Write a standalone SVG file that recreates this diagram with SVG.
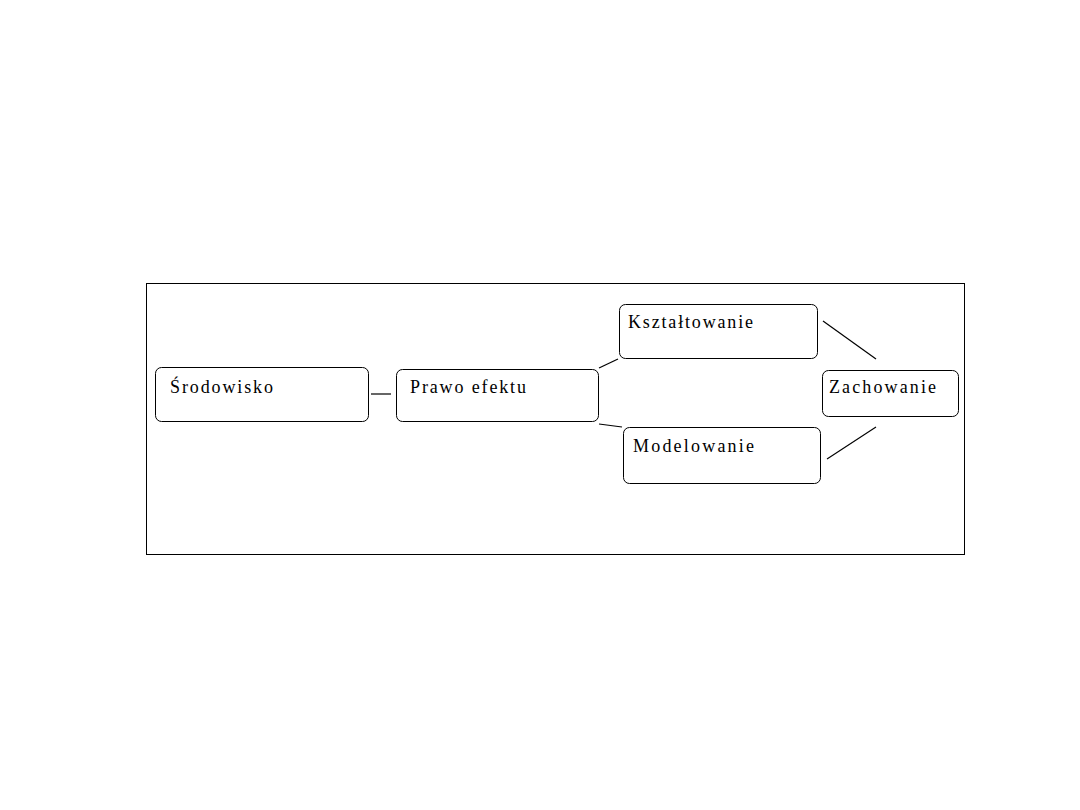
<svg xmlns="http://www.w3.org/2000/svg" width="1080" height="810" viewBox="0 0 1080 810">
<style>
.box{fill:#fff;stroke:#000;stroke-width:1}
.lbl{font-family:"Liberation Serif","DejaVu Serif",serif;font-size:18px;fill:#000}
.con{stroke:#000;stroke-width:1.2;fill:none}
</style>
<rect width="1080" height="810" fill="#fff"/>
<rect x="146.5" y="283.5" width="818" height="271" fill="none" stroke="#000" stroke-width="1"/>
<g id="connectors">
<line class="con" x1="371" y1="394" x2="391" y2="394"/>
<line class="con" x1="599" y1="368" x2="618" y2="359"/>
<line class="con" x1="599" y1="424" x2="622" y2="427"/>
<line class="con" x1="823" y1="321" x2="876" y2="359"/>
<line class="con" x1="827" y1="459" x2="876" y2="427"/>
</g>
<g id="srodowisko">
<rect class="box" x="155.5" y="367.5" width="213" height="54" rx="6"/>
<text class="lbl" x="170" y="393" textLength="103" lengthAdjust="spacing">Środowisko</text>
</g>
<g id="prawo-efektu">
<rect class="box" x="396.5" y="369.5" width="202" height="52" rx="6"/>
<text class="lbl" x="410" y="393" textLength="116" lengthAdjust="spacing">Prawo efektu</text>
</g>
<g id="ksztaltowanie">
<rect class="box" x="619.5" y="304.5" width="198" height="54" rx="6"/>
<text class="lbl" x="628" y="328" textLength="125" lengthAdjust="spacing">Kształtowanie</text>
</g>
<g id="modelowanie">
<rect class="box" x="623.5" y="427.5" width="197" height="56" rx="6"/>
<text class="lbl" x="633" y="452" textLength="121" lengthAdjust="spacing">Modelowanie</text>
</g>
<g id="zachowanie">
<rect class="box" x="822.5" y="370.5" width="136" height="46" rx="6"/>
<text class="lbl" x="829" y="393" textLength="107" lengthAdjust="spacing">Zachowanie</text>
</g>
</svg>
